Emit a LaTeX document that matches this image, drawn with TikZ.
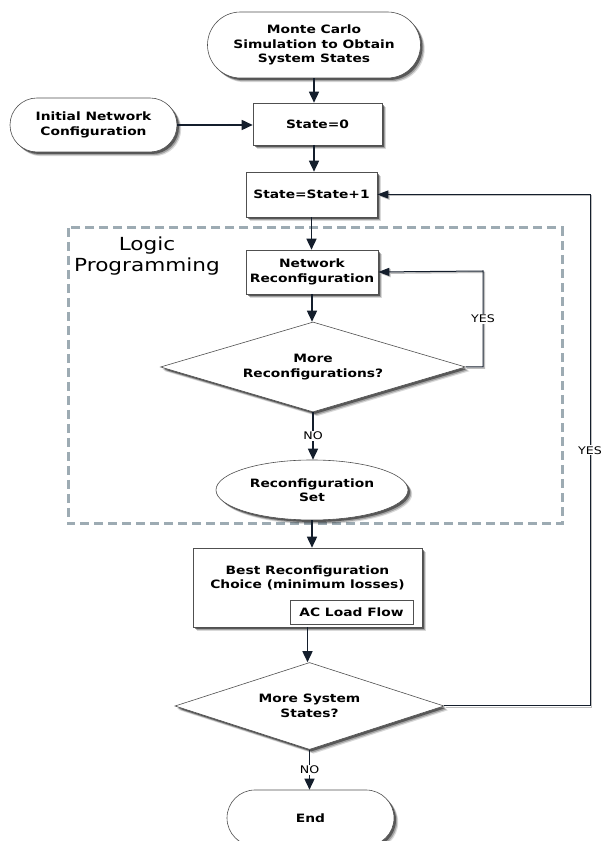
\documentclass[tikz,border=0pt]{standalone}
\usepackage{fontspec}
\setmainfont[FakeStretch=1.2]{DejaVu Sans}
\usetikzlibrary{shapes.geometric,shapes.misc,arrows.meta,shadows,calc}
\definecolor{arr}{HTML}{141E2C}
\definecolor{framec}{HTML}{9DABB3}
\definecolor{edgec}{HTML}{505050}
\begin{document}
\begin{tikzpicture}[x=1pt,y=1pt,
 base/.style={draw=edgec, line width=0.6pt, fill=white, align=center,
   font=\fontsize{11.5}{14.5}\selectfont\bfseries, inner sep=0pt,
   drop shadow={shadow xshift=4.2pt,shadow yshift=-4.2pt,opacity=.15,fill=black},
   drop shadow={shadow xshift=3.2pt,shadow yshift=-3.2pt,opacity=.25,fill=black},
   drop shadow={shadow xshift=2pt,shadow yshift=-2pt,opacity=.45,fill=black}},
 stepbox/.style={base, rectangle},
 term/.style={base, rounded rectangle},
 decide/.style={base, diamond},
 oval/.style={base, ellipse},
 flow/.style={draw=arr, line width=1.6pt, -{Triangle[length=11pt,width=10pt]}},
 back/.style={draw=arr, line width=1pt, -{Triangle[length=11pt,width=8pt]},
   preaction={draw=gray!50, line width=1.4pt, transform canvas={shift={(1.3pt,-1.3pt)}}}},
 lab/.style={font=\fontsize{10.5}{12}\selectfont, fill=white, inner sep=1pt},
]
\clip (0,0) rectangle (601,841);
\fill[white] (0,0) rectangle (601,841);

% dashed frame
\draw[framec, line width=3pt, dash pattern=on 9pt off 5pt] (68,613) rectangle (562,317);
\node[font=\fontsize{18}{21}\selectfont, align=center] (lp) at (147,585) {Logic\\Programming};

% nodes
\node[term, minimum width=213pt, minimum height=66pt] (mc) at (314,796) {Monte Carlo\\Simulation to Obtain\\System States};
\node[term, minimum width=167pt, minimum height=54pt] (init) at (93.5,716) {Initial Network\\Configuration};
\node[stepbox, minimum width=129pt, minimum height=42pt] (s0) at (317.5,717) {State=0};
\node[stepbox, minimum width=131pt, minimum height=45pt] (s1) at (311.5,646.5) {State=State+1};
\node[stepbox, minimum width=132pt, minimum height=44pt] (nr) at (312,569) {Network\\Reconfiguration};
\node[decide, aspect=3.4, minimum width=305pt, minimum height=90pt] (d1) at (313,474) {More\\Reconfigurations?};
\node[oval, minimum width=192pt, minimum height=60pt] (rs) at (312,351) {Reconfiguration\\Set};
\node[stepbox, minimum width=229pt, minimum height=79pt] (best) at (307.5,253.5) {};
\node[font=\fontsize{11.5}{14.5}\selectfont\bfseries, align=center] (bt) at (307.5,263) {Best Reconfiguration\\Choice (minimum losses)};
\node[draw=edgec, line width=0.6pt, fill=white, minimum width=123pt, minimum height=24pt, inner sep=0pt,
      font=\fontsize{11.5}{13}\selectfont\bfseries] (ac) at (351.5,228.5) {AC Load Flow};
\node[decide, aspect=3.1, minimum width=269pt, minimum height=87pt] (d2) at (309.5,135) {More System\\States?};
\node[term, minimum width=167pt, minimum height=56pt] (end) at (310.5,23) {End};

% connectors
\draw[flow] (mc.south) -- (mc.south |- s0.north);
\draw[flow] (init.east) -- (init.east -| s0.west);
\draw[flow] (s0.south -| mc.south) -- (s1.north -| mc.south);
\draw[flow] (s1.south) -- (s1.south |- nr.north);
\draw[flow] (nr.south) -- (nr.south |- d1.north);
\draw[flow] (d1.south) -- node[lab]{NO} (d1.south |- rs.north);
\draw[flow] (rs.south) -- (rs.south |- best.north);
\draw[flow] (best.south) -- (best.south |- d2.north);
\draw[flow] (d2.south) -- node[lab]{NO} (d2.south |- end.north);

\coordinate (k1) at (483,570);
\coordinate (k2) at (590,646.5);
\draw[back] (d1.east) -| node[pos=.75, lab]{YES} (k1) -- (nr.east);
\draw[back] (d2.east) -| node[pos=.75, lab]{YES} (k2) -- (s1.east);
\end{tikzpicture}
\end{document}
